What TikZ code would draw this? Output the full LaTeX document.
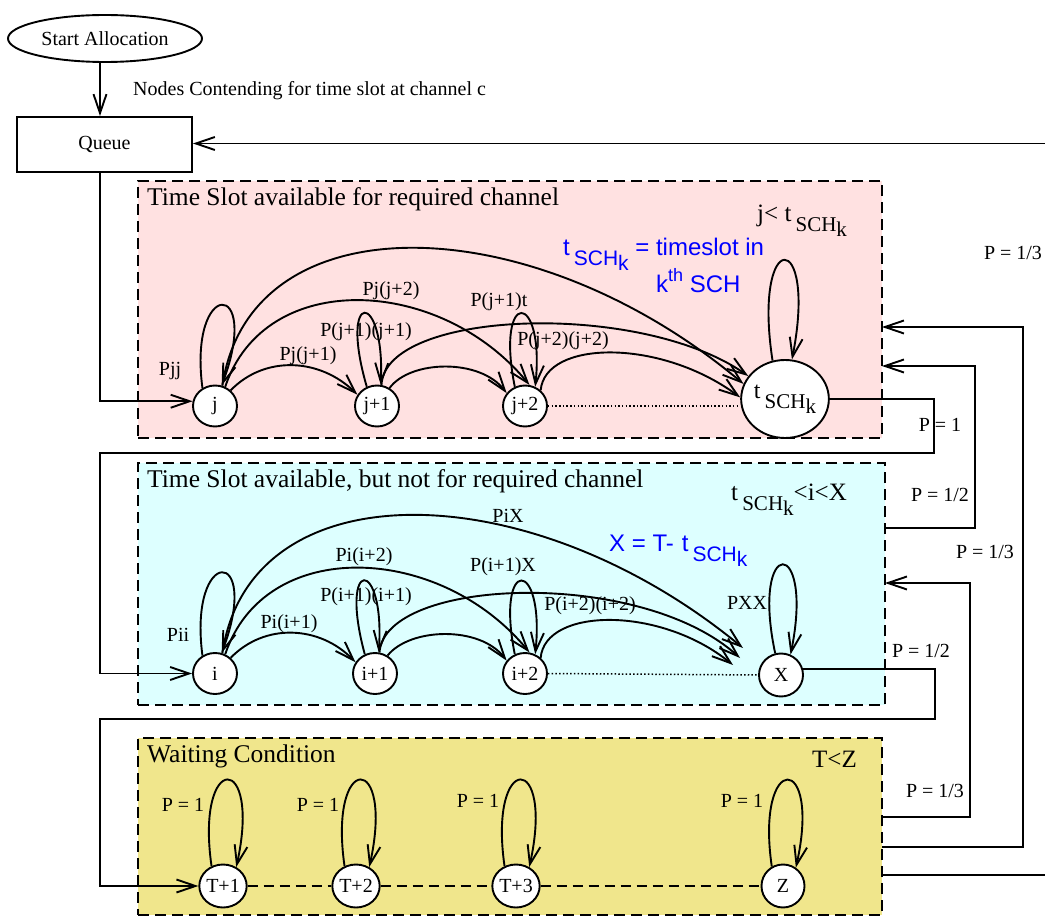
\documentclass[tikz,border=0pt]{standalone}
\usepackage{fontspec}
\setmainfont{Liberation Serif}
\setsansfont{Liberation Sans}
\usetikzlibrary{arrows.meta,shapes.geometric}
\definecolor{pinkc}{RGB}{255,225,225}
\definecolor{cyanc}{RGB}{221,255,255}
\definecolor{yelc}{RGB}{240,230,140}
\newcommand{\fsz}[1]{\fontsize{#1}{#1}\selectfont}
\newcommand{\tsch}{t\,\raisebox{-10pt}{\fsz{21}SCH\raisebox{-5pt}{k}}}
\begin{document}
\begin{tikzpicture}[x=1pt,y=-1pt,
  ln/.style={line width=1.9pt},
  arr/.style={ln,-{Straight Barb[length=19pt,width=13pt]}},
  box/.style={draw,line width=1.9pt,dash pattern=on 11pt off 6pt,inner sep=0pt,outer sep=0pt},
  st/.style={ellipse,draw,fill=white,line width=1.9pt,minimum width=44,minimum height=41,inner sep=0pt,font=\fsz{20}},
  yst/.style={st,minimum width=43,minimum height=43},
  lab/.style={inner sep=0pt,font=\fsz{20}},
  ttl/.style={anchor=west,inner sep=0pt,font=\fsz{25.5}},
  crn/.style={anchor=base west,inner sep=0pt,font=\fsz{25}},
  blu/.style={anchor=base west,inner sep=0pt,font=\sffamily\fsz{24},text=blue},
  dotl/.style={line width=1.5pt,dash pattern=on 1.5pt off 2.2pt},
  dshl/.style={line width=1.9pt,dash pattern=on 10pt off 6pt}]
\useasboundingbox (0,0) rectangle (1045,917);

% boxes
\node[box,fill=pinkc,minimum width=744,minimum height=257] (pbox) at (510,309.5) {};
\node[box,fill=cyanc,minimum width=747,minimum height=242] (cbox) at (511.5,584) {};
\node[box,fill=yelc,minimum width=744,minimum height=177] (ybox) at (510,826.5) {};

\node[ttl] (ptitle) at (147,199) {Time Slot available for required channel};
\node[ttl] (ctitle) at (147,481) {Time Slot available, but not for required channel};
\node[ttl] (ytitle) at (147,756) {Waiting Condition};
\node[crn] (pcorner) at (757,222) {j<\ \tsch};
\node[crn] (ccorner) at (731,500) {\tsch<i<X};
\node[crn] (ycorner) at (812,767) {T<Z};
\node[blu] (blue1) at (563,256) {\tsch\ = timeslot in};
\node[blu] (blue2) at (656,293) {k\raisebox{11pt}{\fsz{18}th}\ SCH};
\node[blu] (blue3) at (609,551) {X = T-\hspace{8pt}\tsch};

% top
\node[ellipse,draw,ln,minimum width=194,minimum height=47,inner sep=0pt,font=\fsz{20}] (start) at (105,38.5) {Start Allocation};
\node[draw,ln,minimum width=175,minimum height=55,inner sep=0pt,font=\fsz{20}] (queue) at (104.5,144.5) {Queue};
\node[lab,anchor=west] (contend) at (133,91) {Nodes Contending for time slot at channel c};

% states
\node[st] (j) at (215,406) {j};
\node[st] (j1) at (377,406) {j+1};
\node[st] (j2) at (525,406) {j+2};
\node[st,minimum width=85,minimum height=78] (t) at (785,399) {\fsz{24}\tsch};
\node[st] (i) at (215,673.5) {i};
\node[st] (i1) at (375,673.5) {i+1};
\node[st] (i2) at (525,673.5) {i+2};
\node[st,minimum height=43] (X) at (781,675) {X};
\node[yst] (T1) at (223,886) {T+1};
\node[yst] (T2) at (356,886) {T+2};
\node[yst] (T3) at (516,886) {T+3};
\node[yst] (Z) at (783,886) {Z};

% coordinates
\coordinate (qx) at (100,0);
\coordinate (tr) at (1045,143.5);
\coordinate (r0) at (934,453);
\coordinate (r1) at (935,719);
\coordinate (ra) at (1023,847);
\coordinate (pa) at (0,327);
\coordinate (rb) at (975,528);
\coordinate (pb) at (0,366);
\coordinate (rc) at (970,817);
\coordinate (pc) at (0,583);
\coordinate (rd) at (1045,875);
\coordinate (xa) at (743,648);
\coordinate (xb) at (740,658);
\coordinate (xc) at (733,665);

% main flow
\draw[arr] (start.south -| qx) -- (queue.north -| qx);
\draw[arr] (tr) -- (queue.east |- tr);
\draw[arr] (queue.south -| qx) |- (j.168);
\draw[arr] (t.east) -| (r0) -- (r0 -| qx) |- (i.west);
\draw[arr] (X.15) -| (r1) -- (r1 -| qx) |- (T1.west);
\draw[arr] (ybox.east |- ra) -- (ra) |- (pbox.east |- pa);
\draw[arr] (cbox.east |- rb) -- (rb) |- (pbox.east |- pb);
\draw[arr] (ybox.east |- rc) -- (rc) |- (cbox.east |- pc);
\draw[ln] (ybox.east |- rd) -- (rd);

\node[lab] (p13a) at (1013,253) {P = 1/3};
\node[lab] (p1) at (940,425) {P = 1};
\node[lab] (p12a) at (940,495) {P = 1/2};
\node[lab] (p13b) at (985,552) {P = 1/3};
\node[lab] (p12b) at (921,651) {P = 1/2};
\node[lab] (p13c) at (935,791) {P = 1/3};

% pink chain
\draw[dotl] (j2.east) -- (j2.east -| t.west);
\draw[arr] (j.125) .. controls (188,278) and (262,278) .. (j.72);
\draw[arr] (j.45) .. controls (265,355) and (320,358) .. (j1.150);
\draw[arr] (j.62) .. controls (265,268) and (440,276) .. (j2.78);
\draw[arr] (j.70) .. controls (250,200) and (530,205) .. (t.160);
\draw[arr] (j1.118) .. controls (338,288) and (385,290) .. (j1.80);
\draw[arr] (j1.78) .. controls (385,310) and (640,300) .. (t.148);
\draw[arr] (j1.55) .. controls (410,360) and (480,358) .. (j2.145);
\draw[arr] (j2.118) .. controls (495,288) and (545,290) .. (j2.62);
\draw[arr] (j2.45) .. controls (545,340) and (660,338) .. (t.178);
\draw[arr] (t.108) .. controls (752,227) and (818,227) .. (t.80);
\node[lab] (lpjj) at (170,371) {Pjj};
\node[lab] (lpj1) at (308,356) {Pj(j+1)};
\node[lab] (lpj2) at (391,291) {Pj(j+2)};
\node[lab] (lp11) at (366,332) {P(j+1)(j+1)};
\node[lab] (lp1t) at (499,302) {P(j+1)t};
\node[lab] (lp22) at (563,341) {P(j+2)(j+2)};

% cyan chain
\draw[dotl] (i2.east) -- (X.west);
\draw[arr] (i.125) .. controls (188,545.5) and (262,545.5) .. (i.72);
\draw[arr] (i.45) .. controls (265,622.5) and (320,625.5) .. (i1.150);
\draw[arr] (i.62) .. controls (265,535.5) and (440,543.5) .. (i2.78);
\draw[arr] (i.70) .. controls (250,467.5) and (530,472.5) .. (xa);
\draw[arr] (i1.118) .. controls (338,555.5) and (385,557.5) .. (i1.80);
\draw[arr] (i1.78) .. controls (385,577.5) and (640,567.5) .. (xb);
\draw[arr] (i1.55) .. controls (410,627.5) and (480,625.5) .. (i2.145);
\draw[arr] (i2.118) .. controls (495,555.5) and (545,557.5) .. (i2.62);
\draw[arr] (i2.45) .. controls (545,607.5) and (660,605.5) .. (xc);
\draw[arr] (X.105) .. controls (750,535) and (815,535) .. (X.65);
\node[lab] (lpii) at (178,635) {Pii};
\node[lab] (lpi1) at (289,624) {Pi(i+1)};
\node[lab] (lpi2) at (364,557) {Pi(i+2)};
\node[lab] (lpix) at (508,516) {PiX};
\node[lab] (lq11) at (366,597) {P(i+1)(i+1)};
\node[lab] (lq1x) at (503,567) {P(i+1)X};
\node[lab] (lq22) at (590,606) {P(i+2)(i+2)};
\node[lab] (lpxx) at (747,603) {PXX};

% yellow chain
\draw[dshl] (T1.east) -- (T2.west) (T2.east) -- (T3.west) (T3.east) -- (Z.west);
\draw[arr] (T1.120) .. controls (195,751) and (262,751) .. (T1.55);
\draw[arr] (T2.120) .. controls (328,751) and (395,751) .. (T2.55);
\draw[arr] (T3.120) .. controls (488,751) and (555,751) .. (T3.55);
\draw[arr] (Z.120) .. controls (755,751) and (822,751) .. (Z.55);
\node[lab] (ly1) at (183,805) {P = 1};
\node[lab] (ly2) at (318,805) {P = 1};
\node[lab] (ly3) at (478,801) {P = 1};
\node[lab] (ly4) at (742,801) {P = 1};
\end{tikzpicture}
\end{document}
